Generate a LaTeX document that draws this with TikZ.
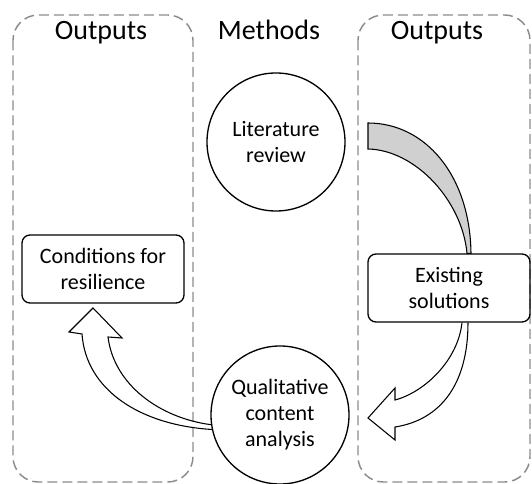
\documentclass[tikz,border=0pt]{standalone}
\usepackage{fontspec}
\setmainfont{Carlito}
\usetikzlibrary{calc}
\definecolor{wedgegray}{RGB}{208,208,208}
\definecolor{dashgray}{RGB}{140,140,140}

\begin{document}
\begin{tikzpicture}
  [x=0.75pt,y=-0.75pt,
   panel/.style={draw=dashgray,line width=1.1pt,dash pattern=on 7.5pt off 3.75pt,rounded corners=19pt},
   title/.style={anchor=base,font=\fontsize{21}{25}\selectfont},
   method/.style={circle,draw,line width=1pt,minimum size=103.5pt,inner sep=0pt,align=center,font=\fontsize{16.5}{19.5}\selectfont},
   output/.style={rectangle,rounded corners=6pt,draw,line width=1pt,minimum width=121.5pt,minimum height=51pt,align=center,font=\fontsize{16.5}{19.5}\selectfont},
   blockarrow/.style={draw,line width=0.8pt,line join=miter},
   wedge/.style={draw,line width=0.8pt,fill=wedgegray}]
  \useasboundingbox (0,0) rectangle (532,484);

  % dashed columns
  \draw[panel] (13,15) rectangle (193,482);
  \draw[panel] (358,15) rectangle (530,482);

  \node[title] (outl) at (101,40) {Outputs};
  \node[title] (meth) at (269,40) {Methods};
  \node[title] (outr) at (437,40) {Outputs};

  \node[method] (lit) at (276,142) {Literature\\review};
  \node[method] (qca) at (280,415) {Qualitative\\content\\analysis};
  \node[output] (cond) at (103,269) {Conditions for\\resilience};
  \node[output] (exist) at (449,288) {Existing\\solutions};

  \coordinate (w1) at (368,123);
  \coordinate (w2) at (368,149);

  % arrows
  \path[wedge] (w1) .. controls (425,123) and (470,175) .. ($(exist.north)+(22,0)$)
        -- ($(exist.north)+(18,0)$) .. controls (462,200) and (415,150) .. (w2) -- cycle;
  \path[blockarrow] ($(exist.south)+(19,0)$) .. controls (468,385) and (440,420) .. (395,427)
        -- (395,440) -- (368,418) -- (395,388) -- (395,400)
        .. controls (425,392) and (458,360) .. ($(exist.south)+(13,0)$);
  \path[blockarrow] (qca.192) .. controls (140,425) and (86,390) .. (82,334)
        -- (69,332) -- (93,308) -- (122,338) -- (108,337)
        .. controls (114,385) and (160,418) .. (qca.188);

\end{tikzpicture}
\end{document}
